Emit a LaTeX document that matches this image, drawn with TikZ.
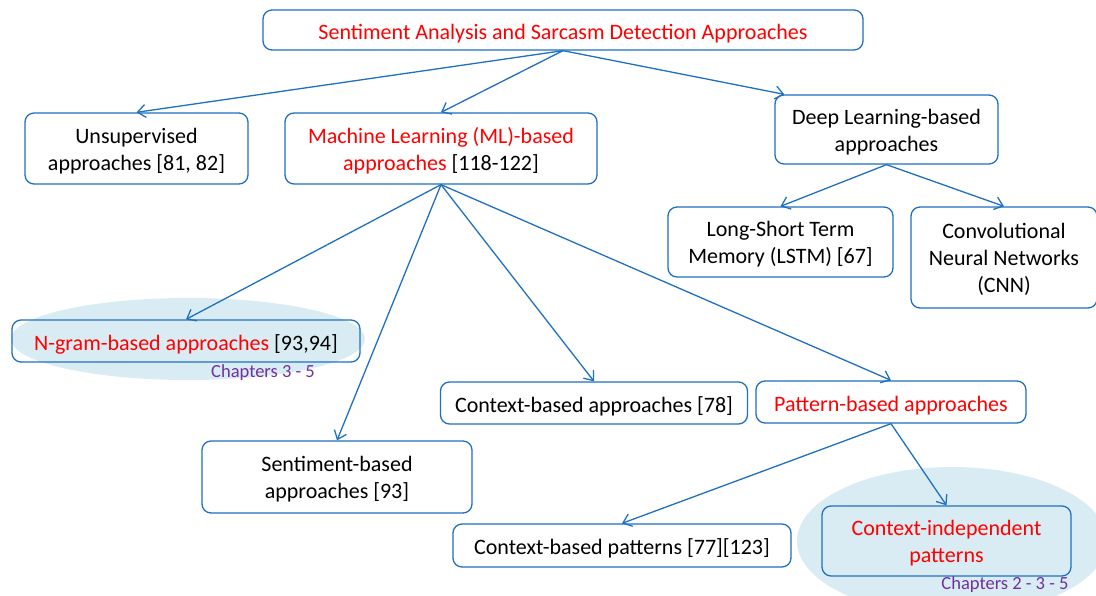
\documentclass[tikz,border=0pt]{standalone}
\usepackage{fontspec}
\setmainfont{Carlito}
\usetikzlibrary{arrows.meta,calc,shapes.geometric}
\definecolor{lineblue}{RGB}{31,112,193}
\definecolor{ellfill}{RGB}{218,236,243}
\definecolor{chappurple}{RGB}{112,48,160}
\newcommand\mlines[1]{\begin{tabular}{@{}c@{}}\rule{0pt}{25pt}#1\end{tabular}}
\tikzset{
  box/.style={draw=lineblue, line width=1.3pt, rounded corners=9pt, fill=white, inner sep=0pt, font=\fontsize{22}{27}\selectfont},
  onebox/.style={box, execute at begin node={\rule{0pt}{22.5pt}}},
  conn/.style={draw=lineblue, line width=1.3pt, -{Straight Barb[length=8pt,width=13pt,line width=1.3pt]}},
  chap/.style={text=chappurple, font=\fontsize{18.5}{20}\selectfont, inner sep=0pt},
  hl/.style={fill=ellfill, draw=none}
}
\begin{document}
\begin{tikzpicture}[x=1pt,y=-1pt]
\useasboundingbox (0,0) rectangle (1096,596);
\clip (0,0) rectangle (1096,596);
% highlight ellipses
\node[hl, ellipse, minimum width=354pt, minimum height=82pt] (ell1) at (188,339) {};
\node[hl, ellipse, minimum width=310pt, minimum height=148pt] (ell2) at (952,541) {};
% boxes
\node[onebox, minimum width=600pt, minimum height=40pt, text=red] (top) at (563,30) {Sentiment Analysis and Sarcasm Detection Approaches};
\node[box, minimum width=223pt, minimum height=71pt] (unsup) at (136.5,148.5) {\mlines{Unsupervised\\approaches [81, 82]}};
\node[box, minimum width=312pt, minimum height=71pt] (ml) at (441,148.5) {\mlines{{\color{red}Machine Learning (ML)-based}\\{\color{red}approaches} [118-122]}};
\node[box, minimum width=223pt, minimum height=69pt] (dl) at (886.5,129.5) {\mlines{Deep Learning-based\\approaches}};
\node[box, minimum width=225pt, minimum height=70pt] (lstm) at (780.5,242) {\mlines{Long-Short Term\\Memory (LSTM) [67]}};
\node[box, minimum width=186pt, minimum height=101pt] (cnn) at (1004,257.5) {\mlines{Convolutional\\Neural Networks\\(CNN)}};
\node[onebox, minimum width=348pt, minimum height=42pt, fill=none] (ngram) at (186,341) {{\color{red}N-gram-based approaches} [93,94]};
\node[onebox, minimum width=307pt, minimum height=42pt] (ctx) at (594,403) {Context-based approaches [78]};
\node[onebox, minimum width=270pt, minimum height=42pt, text=red] (pat) at (891,402) {Pattern-based approaches};
\node[box, minimum width=270pt, minimum height=72pt] (sent) at (337,477) {\mlines{Sentiment-based\\approaches [93]}};
\node[onebox, minimum width=338pt, minimum height=43pt] (ctxpat) at (622,545.5) {Context-based patterns [77][123]};
\node[box, minimum width=249pt, minimum height=70pt, fill=none, text=red] (indep) at (946.5,541) {\mlines{Context-independent\\patterns}};
% chapter labels
\node[chap] (ch1) at (263,373) {Chapters 3 - 5};
\node[chap] (ch2) at (1005,585) {Chapters 2 - 3 - 5};
% connectors
\coordinate (dlin) at ($(dl.north west)+(10,0)$);
\draw[conn] (top.south) -- (unsup.north);
\draw[conn] (top.south) -- (ml.north);
\draw[conn] (top.south) -- (dlin);
\draw[conn] (dl.south) -- (lstm.north);
\draw[conn] (dl.south) -- (cnn.north);
\draw[conn] (ml.south) -- (ngram.north);
\draw[conn] (ml.south) -- (sent.north);
\draw[conn] (ml.south) -- (ctx.north);
\draw[conn] (ml.south) -- (pat.north);
\draw[conn] (pat.south) -- (ctxpat.north);
\draw[conn] (pat.south) -- (indep.north);
\end{tikzpicture}
\end{document}
